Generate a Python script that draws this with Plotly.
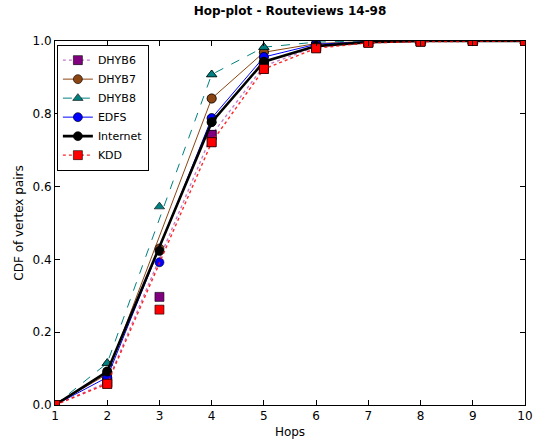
import plotly.graph_objects as go

hops = [1, 2, 3, 4, 5, 6, 7, 8, 9, 10]
line_hops = [1, 2, 4, 5, 6, 7, 8, 9, 10]  # connecting lines skip hop 3 in the reference

dhyb6 = [0.0, 0.062, 0.297, 0.742, 0.931, 0.985, 0.997, 0.999, 1.0, 1.0]
dhyb7 = [0.0, 0.085, 0.43, 0.842, 0.969, 0.993, 0.999, 1.0, 1.0, 1.0]
dhyb8 = [0.0, 0.115, 0.545, 0.908, 0.983, 0.997, 1.0, 1.0, 1.0, 1.0]
edfs = [0.0, 0.076, 0.392, 0.788, 0.956, 0.991, 0.998, 1.0, 1.0, 1.0]
internet = [0.0, 0.092, 0.423, 0.777, 0.943, 0.986, 0.997, 1.0, 1.0, 1.0]
kdd = [0.0, 0.058, 0.262, 0.722, 0.923, 0.98, 0.995, 0.998, 1.0, 1.0]

series = [
    ("DHYB6", dhyb6, "#800080", "rgba(170,70,180,0.7)", "dot", 1.4, "square", 9),
    ("DHYB7", dhyb7, "#8B4513", "#8B4513", "solid", 1.0, "circle", 9),
    ("DHYB8", dhyb8, "#008080", "#008080", "dash", 1.0, "triangle-up", 9),
    ("EDFS", edfs, "#0000FF", "#0000FF", "solid", 1.0, "circle", 9),
    ("Internet", internet, "#000000", "#000000", "solid", 2.6, "circle", 9),
    ("KDD", kdd, "#FF0000", "rgba(255,0,0,0.85)", "dot", 1.4, "square", 9),
]

fig = go.Figure()
for name, vals, mcol, lcol, dash, lw, sym, ms in series:
    line_vals = [v for h, v in zip(hops, vals) if h in line_hops]
    fig.add_trace(go.Scatter(
        x=line_hops, y=line_vals, mode="lines+markers", name=name,
        legendgroup=name,
        line=dict(color=lcol, dash=dash, width=lw),
        marker=dict(symbol=sym, size=ms, color=mcol, line=dict(color="#000000", width=0.6)),
    ))
    fig.add_trace(go.Scatter(
        x=hops, y=vals, mode="markers", name=name, legendgroup=name, showlegend=False,
        marker=dict(symbol=sym, size=ms, color=mcol, line=dict(color="#000000", width=0.6)),
    ))

axis_common = dict(
    showline=True, linecolor="#000000", linewidth=1, mirror="allticks",
    ticks="inside", ticklen=5, tickcolor="#000000", showgrid=False, zeroline=False,
    automargin=False,
    tickfont=dict(family="DejaVu Sans", size=12, color="#000000"),
)

fig.update_layout(
    width=537, height=445,
    margin=dict(l=55, r=12, t=41, b=40),
    paper_bgcolor="#ffffff", plot_bgcolor="#ffffff",
    font=dict(family="DejaVu Sans", size=12, color="#000000"),
    title=dict(text="<b>Hop-plot - Routeviews 14-98</b>", x=290 / 537, xanchor="center",
               yref="container", y=1 - 11 / 445, yanchor="middle", font=dict(size=12)),
    xaxis=dict(range=[1, 10], tickvals=hops,
               title=dict(text="Hops", standoff=5, font=dict(size=12)), **axis_common),
    yaxis=dict(range=[0, 1], tickvals=[0, 0.2, 0.4, 0.6, 0.8, 1.0], tickformat=".1f",
               title=dict(text="CDF of vertex pairs", standoff=6, font=dict(size=12)), **axis_common),
    legend=dict(x=0.004, y=0.99, xanchor="left", yanchor="top", bgcolor="#ffffff",
                bordercolor="#000000", borderwidth=1, font=dict(size=11),
                tracegroupgap=0, itemwidth=30),
    showlegend=True,
)

fig.write_html("out.html", config={"displayModeBar": False},
               post_script="document.body.style.margin='0';")
